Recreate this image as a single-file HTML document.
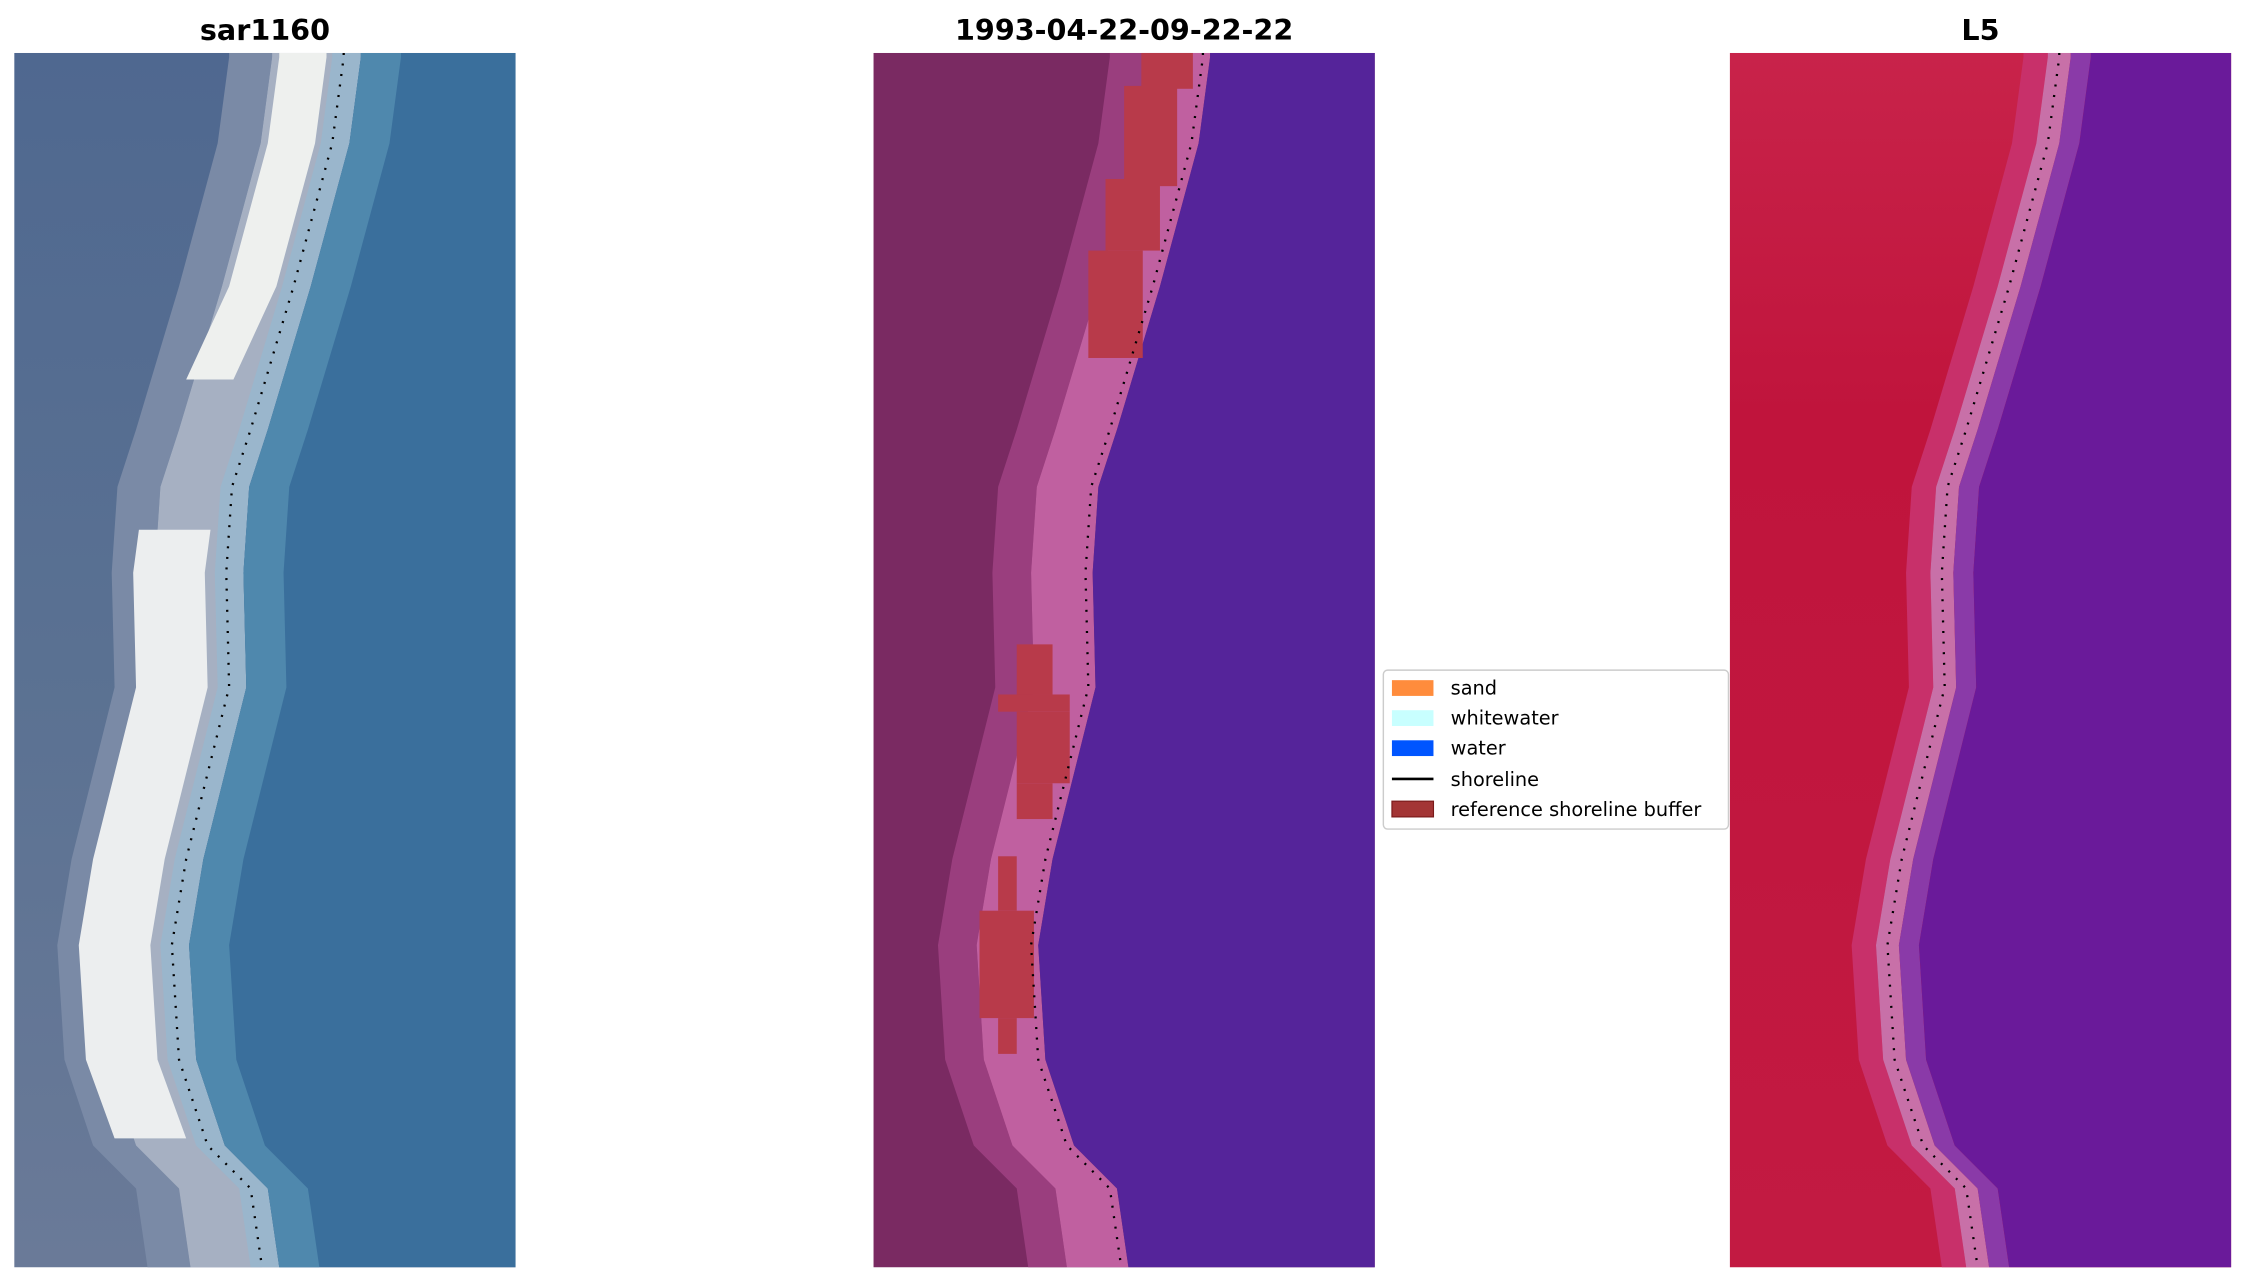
<!DOCTYPE html>
<html><head><meta charset="utf-8"><style>
html,body{margin:0;padding:0;background:#fff}
svg{display:block}
text{font-family:"DejaVu Sans","Liberation Sans",sans-serif}
</style></head><body>
<svg id="s" width="2245" height="1283" viewBox="0 0 1567.7 896" preserveAspectRatio="none" xmlns="http://www.w3.org/2000/svg">
<defs>
<linearGradient id="g1l" x1="0" y1="0" x2="0" y2="1">
<stop offset="0" stop-color="#4f6890"/><stop offset="0.5" stop-color="#5a7192"/><stop offset="1" stop-color="#6a7a98"/></linearGradient>
<linearGradient id="g3l" x1="0" y1="0" x2="0" y2="1">
<stop offset="0" stop-color="#c8234a"/><stop offset="0.3" stop-color="#c0143c"/><stop offset="1" stop-color="#c21a42"/></linearGradient>
</defs>
<g id="p1"></g><g id="p2"></g><g id="p3"></g>
<text x="185" y="28" font-size="20" font-weight="bold" text-anchor="middle">sar1160</text>
<text x="785" y="28" font-size="20" font-weight="bold" text-anchor="middle">1993-04-22-09-22-22</text>
<text x="1383" y="28" font-size="20" font-weight="bold" text-anchor="middle">L5</text>
<rect x="966" y="468" width="241" height="111" rx="3" fill="#fff" stroke="#ccc" stroke-width="1"/>
<rect x="972" y="475" width="29" height="11" fill="#ff8c3c"/>
<rect x="972" y="496" width="29" height="11" fill="#c8ffff"/>
<rect x="972" y="517" width="29" height="11" fill="#0055ff"/>
<line x1="972" y1="544" x2="1001" y2="544" stroke="#000" stroke-width="1.8"/>
<rect x="972" y="559.5" width="29" height="11" fill="#a33535" stroke="#7a1a1a" stroke-width="0.8"/>
<g font-size="13.5" fill="#000">
<text x="1013" y="485">sand</text>
<text x="1013" y="506">whitewater</text>
<text x="1013" y="527">water</text>
<text x="1013" y="549">shoreline</text>
<text x="1013" y="570">reference shoreline buffer</text>
</g>
</svg>
<script>
const S=[[230,37],[230,40],[222,100],[195,200],[165,300],[152,340],[148,400],[150,480],[135,540],[120,600],[110,660],[115,740],[135,800],[165,830],[173,885]];
const NS="http://www.w3.org/2000/svg";
function el(p,t,a){const e=document.createElementNS(NS,t);for(const k in a)e.setAttribute(k,a[k]);p.appendChild(e);return e;}
function band(x0,a,b,y0,y1){
 let pts=S.filter(p=>p[1]>=y0-60&&p[1]<=y1+60);
 let L=pts.map(p=>[x0+Math.max(0,Math.min(350,p[0]+a)),Math.max(y0,Math.min(y1,p[1]))]);
 let R=pts.map(p=>[x0+Math.max(0,Math.min(350,p[0]+b)),Math.max(y0,Math.min(y1,p[1]))]).reverse();
 return L.concat(R).map(p=>p.join(',')).join(' ');
}
function line(x0){return S.map(p=>(x0+p[0])+','+p[1]).join(' ');}
// Panel 1
let g=document.getElementById('p1'),x=10;
el(g,'rect',{x:x,y:37,width:350,height:848,fill:'url(#g1l)'});
el(g,'polygon',{points:band(x,-80,-50,37,885),fill:'#7a8aa6'});
el(g,'polygon',{points:band(x,-50,0,37,885),fill:'#a6b0c2'});
el(g,'polygon',{points:band(x,-45,-12,37,265),fill:'#eef0ee'});
el(g,'polygon',{points:band(x,-65,-15,370,795),fill:'#eceeef'});
el(g,'polygon',{points:band(x,-8,12,37,885),fill:'#9ab6cc'});
el(g,'polygon',{points:band(x,12,400,37,885),fill:'#3a6f9c'});
el(g,'polygon',{points:band(x,12,40,37,885),fill:'#4f88ad'});
// Panel 2
g=document.getElementById('p2');x=610;
el(g,'rect',{x:x,y:37,width:350,height:848,fill:'#7a2a62'});
el(g,'polygon',{points:band(x,-65,-38,37,885),fill:'#9a3e7e'});
el(g,'polygon',{points:band(x,-38,5,37,885),fill:'#c060a0'});
el(g,'polygon',{points:band(x,5,400,37,885),fill:'#55249a'});
[[797,37,36,25],[785,60,37,70],[772,125,38,50],[760,175,38,75],[710,450,25,35],[697,485,50,12],[710,497,37,50],[710,547,25,25],[697,598,13,38],[684,636,38,75],[697,711,13,25]].forEach(r=>el(g,'rect',{x:r[0],y:r[1],width:r[2],height:r[3],fill:'#b83a4a'}));
// Panel 3
g=document.getElementById('p3');x=1208;
el(g,'rect',{x:x,y:37,width:350,height:848,fill:'url(#g3l)'});
el(g,'polygon',{points:band(x,-25,-8,37,885),fill:'#c8306a'});
el(g,'polygon',{points:band(x,-8,8,37,885),fill:'#c870a8'});
el(g,'polygon',{points:band(x,8,22,37,885),fill:'#8a3aa8'});
el(g,'polygon',{points:band(x,22,400,37,885),fill:'#6a1a9a'});
[10,610,1208].forEach(x0=>{
 el(document.getElementById('s'),'polyline',{points:line(x0),fill:'none',stroke:'#000','stroke-width':1.6,'stroke-dasharray':'1.4 6'});
});
</script>
</body></html>
